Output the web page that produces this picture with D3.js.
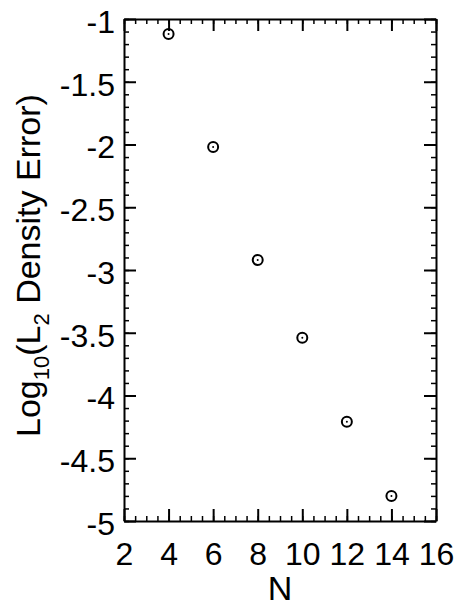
<!DOCTYPE html>
<html>
<head>
<meta charset="utf-8">
<script src="https://cdn.jsdelivr.net/npm/d3@7"></script>
<style>
  body { margin: 0; background: #fff; }
  svg { display: block; font-family: "Liberation Sans", Arial, Helvetica, sans-serif; }
  .tick text { font-size: 32px; fill: #000; }
  .domain { stroke: #000; stroke-width: 2px; }
  .tick line { stroke: #000; stroke-width: 2px; }
  .minor .tick line { stroke-width: 1.5px; }
  .minor .domain { display: none; }
</style>
</head>
<body>
<div id="chart"></div>
<script>
// Data
const nValues = [4, 6, 8, 10, 12, 14];
const logError = [-1.12, -2.02, -2.92, -3.54, -4.21, -4.80];
const xTicks = [2, 4, 6, 8, 10, 12, 14, 16];
const yTicks = [-5, -4.5, -4, -3.5, -3, -2.5, -2, -1.5, -1];

const W = 456, H = 607;
const margin = { top: 19, right: 20, bottom: 86, left: 124 };
const width = W - margin.left - margin.right;
const height = H - margin.top - margin.bottom;

const svg = d3.select('#chart').append('svg')
    .attr('width', W)
    .attr('height', H);

const g = svg.append('g')
    .attr('transform', `translate(${margin.left},${margin.top})`);

const x = d3.scaleLinear().domain([2, 16]).range([0, width]);
const y = d3.scaleLinear().domain([-5, -1]).range([height, 0]);

const xMinor = d3.range(2, 16.001, 0.5);
const yMinor = d3.range(-5, -0.999, 0.1).map(v => +v.toFixed(1));

// minor ticks on all four sides
g.append('g').attr('class', 'minor')
    .attr('transform', `translate(0,${height})`)
    .call(d3.axisBottom(x).tickValues(xMinor).tickSizeInner(-5).tickSizeOuter(0).tickFormat(''));
g.append('g').attr('class', 'minor')
    .call(d3.axisTop(x).tickValues(xMinor).tickSizeInner(-5).tickSizeOuter(0).tickFormat(''));
g.append('g').attr('class', 'minor')
    .call(d3.axisLeft(y).tickValues(yMinor).tickSizeInner(-5).tickSizeOuter(0).tickFormat(''));
g.append('g').attr('class', 'minor')
    .attr('transform', `translate(${width},0)`)
    .call(d3.axisRight(y).tickValues(yMinor).tickSizeInner(-5).tickSizeOuter(0).tickFormat(''));

// major ticks
g.append('g')
    .attr('transform', `translate(0,${height})`)
    .call(d3.axisBottom(x).tickValues(xTicks).tickSizeInner(-12).tickSizeOuter(0)
        .tickPadding(21).tickFormat(d => String(d)));
g.append('g')
    .call(d3.axisTop(x).tickValues(xTicks).tickSizeInner(-12).tickSizeOuter(0).tickFormat(''));
g.append('g')
    .call(d3.axisLeft(y).tickValues(yTicks).tickSizeInner(-12).tickSizeOuter(0)
        .tickPadding(9).tickFormat(d => String(d)))
    .selectAll('text').attr('dy', '0.42em');
g.append('g')
    .attr('transform', `translate(${width},0)`)
    .call(d3.axisRight(y).tickValues(yTicks).tickSizeInner(-12).tickSizeOuter(0).tickFormat(''));

g.selectAll('.tick text').attr('font-family', null);
svg.selectAll('.domain').attr('stroke-width', 2);

// points: open circle with a centre dot
const pts = g.selectAll('.pt')
    .data(nValues.map((n, i) => ({ n: n, v: logError[i] })))
    .join('g')
    .attr('class', 'pt')
    .attr('transform', d => `translate(${x(d.n)},${y(d.v)})`);
pts.append('circle').attr('r', 5).attr('fill', 'none').attr('stroke', '#000').attr('stroke-width', 2);
pts.append('circle').attr('r', 1).attr('fill', '#000');

// axis titles
svg.append('text')
    .attr('x', margin.left + width / 2)
    .attr('y', 600)
    .attr('text-anchor', 'middle')
    .style('font-size', '34px')
    .text('N');

const yt = svg.append('text')
    .attr('transform', 'translate(40,437) rotate(-90)')
    .attr('text-anchor', 'start')
    .style('font-size', '34px');
yt.append('tspan').text('Log');
yt.append('tspan').attr('dy', 9).style('font-size', '22px').text('10');
yt.append('tspan').attr('dy', -9).text('(L');
yt.append('tspan').attr('dy', 9).style('font-size', '22px').text('2');
yt.append('tspan').attr('dy', -9).text(' Density Error)');
</script>
</body>
</html>
